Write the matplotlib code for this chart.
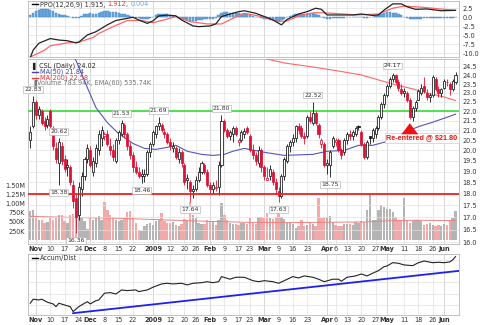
import numpy as np
import pandas as pd
import matplotlib
matplotlib.use("Agg")
from matplotlib import pyplot as plt
from matplotlib.transforms import offset_copy

# ---- calendar (trading days) ----
holidays = ['2008-11-27', '2008-12-25', '2009-01-01', '2009-01-19',
            '2009-02-16', '2009-04-10', '2009-05-25']
days = pd.bdate_range('2008-10-30', '2009-06-05')
days = days[~days.isin(pd.to_datetime(holidays))]

tick_dates = ['2008-11-03', '2008-11-10', '2008-11-17', '2008-11-24', '2008-12-01',
              '2008-12-08', '2008-12-15', '2008-12-22', '2009-01-02', '2009-01-12',
              '2009-01-20', '2009-01-26', '2009-02-02', '2009-02-09', '2009-02-17',
              '2009-02-23', '2009-03-02', '2009-03-09', '2009-03-16', '2009-03-23',
              '2009-04-01', '2009-04-06', '2009-04-13', '2009-04-20', '2009-04-27',
              '2009-05-01', '2009-05-11', '2009-05-18', '2009-05-26', '2009-06-01']
tick_labels = ['Nov', '10', '17', '24', 'Dec', '8', '15', '22', '2009', '12', '20', '26',
               'Feb', '9', '17', '23', 'Mar', '9', '16', '23', 'Apr', '6', '13', '20', '27',
               'May', '11', '18', '26', 'Jun']
month_labels = ['Nov', 'Dec', '2009', 'Feb', 'Mar', 'Apr', 'May', 'Jun']

# ---- daily prices ----
opens = [20.5, 21.2, 22.5, 21.8, 22.0, 21.5, 21.3, 22.0, 21.1, 20.1,
         19.4, 20.2, 19.6, 19.2, 19.2, 18.4, 17.8, 17.1, 18.2, 18.8,
         19.6, 20.0, 19.0, 19.4, 20.0, 20.6, 20.7, 20.8, 20.2, 20.0,
         19.5, 20.5, 20.8, 21.3, 20.8, 20.2, 19.8, 19.2, 19.0, 18.8,
         18.8, 18.9, 19.9, 20.3, 20.8, 21.2, 21.3, 20.9, 20.8, 20.4,
         20.1, 20.1, 19.6, 19.9, 19.3, 18.6, 18.5, 18.1, 18.2, 18.6,
         19.0, 19.3, 19.0, 18.4, 18.2, 18.25, 18.3, 19.3, 21.5, 21.0,
         20.7, 20.8, 21.1, 20.4, 20.5, 20.8, 21.1, 20.7, 20.0, 19.8,
         19.4, 20.0, 19.2, 18.6, 18.8, 19.0, 18.5, 18.1, 17.9, 18.8,
         19.5, 20.2, 20.4, 20.6, 21.2, 21.1, 20.7, 20.7, 21.7, 21.4,
         21.9, 21.3, 20.3, 20.3, 19.3, 19.3, 20.2, 20.4, 20.5, 20.0,
         19.9, 20.5, 20.8, 20.7, 20.8, 21.25, 20.9, 20.3, 19.7, 20.7,
         20.6, 20.8, 21.1, 21.7, 22.4, 22.9, 23.4, 23.8, 24.0, 23.6,
         23.2, 23.0, 23.0, 22.6, 21.7, 22.2, 22.6, 23.0, 23.4, 23.0,
         22.8, 22.9, 23.8, 23.2, 23.0, 23.3, 23.6, 23.5, 23.2, 23.6]
highs = [21.2, 22.83, 22.6, 22.3, 22.1, 21.7, 21.8, 22.1, 21.2, 20.4,
         20.62, 20.4, 19.8, 19.6, 19.3, 18.6, 18.0, 18.5, 19.0, 19.7,
         20.3, 20.2, 19.7, 20.3, 21.0, 21.2, 20.9, 21.0, 20.6, 20.3,
         20.6, 21.0, 21.53, 21.4, 20.9, 20.4, 19.9, 19.5, 19.2, 19.1,
         19.1, 20.0, 20.4, 21.0, 21.3, 21.69, 21.4, 21.1, 20.9, 20.6,
         20.4, 20.2, 20.1, 20.0, 19.4, 18.9, 18.6, 18.4, 18.8, 19.2,
         19.5, 19.4, 19.1, 18.5, 18.5, 18.6, 19.5, 21.80, 21.6, 21.1,
         21.0, 21.2, 21.2, 20.6, 21.0, 21.1, 21.2, 20.8, 20.3, 19.9,
         20.2, 20.1, 19.3, 19.2, 19.3, 19.1, 18.7, 18.3, 18.9, 19.7,
         20.3, 20.5, 20.8, 21.3, 21.4, 21.3, 20.9, 21.8, 22.0, 22.52,
         22.0, 21.4, 20.6, 20.4, 19.6, 20.0, 20.7, 20.6, 20.6, 20.1,
         20.6, 20.9, 21.0, 21.0, 21.2, 21.3, 21.0, 20.4, 20.5, 20.7,
         21.1, 21.2, 21.8, 22.5, 23.0, 23.5, 23.9, 24.17, 24.1, 23.8,
         23.5, 23.3, 23.1, 22.7, 22.3, 22.6, 23.2, 23.5, 23.9, 23.2,
         23.0, 24.0, 23.9, 23.4, 23.3, 23.8, 23.8, 23.6, 23.8, 24.2]
lows = [20.1, 21.1, 21.6, 21.6, 21.3, 21.0, 21.1, 21.1, 20.0, 19.4,
        18.38, 19.3, 19.0, 18.8, 18.4, 17.4, 16.36, 16.9, 17.9, 18.6,
        19.4, 19.2, 18.8, 19.2, 19.8, 20.2, 20.5, 20.2, 19.8, 19.5,
        19.4, 20.3, 20.7, 20.6, 20.0, 19.6, 19.0, 18.9, 18.7, 18.46,
        18.5, 18.8, 19.7, 20.2, 20.6, 21.0, 20.9, 20.6, 20.3, 20.0,
        19.9, 19.6, 19.4, 19.2, 18.4, 18.2, 17.64, 17.8, 18.1, 18.5,
        18.9, 18.9, 18.3, 18.0, 18.0, 18.1, 17.96, 19.2, 20.9, 20.6,
        20.5, 20.4, 20.7, 20.2, 20.4, 20.6, 20.8, 19.9, 19.6, 19.3,
        19.2, 19.0, 18.6, 18.6, 18.6, 18.4, 18.0, 17.63, 17.8, 18.6,
        19.4, 19.9, 20.2, 20.4, 20.8, 20.6, 20.3, 20.6, 21.4, 21.3,
        21.3, 20.6, 20.1, 19.2, 18.9, 18.75, 20.1, 20.2, 19.9, 19.6,
        19.8, 20.3, 20.5, 20.5, 20.7, 21.0, 20.2, 19.6, 19.6, 20.3,
        20.4, 20.6, 21.0, 21.6, 22.2, 22.8, 23.3, 23.6, 23.5, 23.1,
        22.9, 22.8, 22.5, 21.6, 21.5, 22.0, 22.6, 22.9, 23.0, 22.6,
        22.5, 22.8, 23.1, 22.8, 22.8, 23.2, 23.4, 22.9, 23.1, 23.5]
closes = [20.9, 22.5, 21.8, 22.1, 21.4, 21.2, 21.6, 21.2, 20.2, 19.6,
          20.4, 19.5, 19.1, 19.3, 18.5, 17.7, 17.0, 18.3, 18.8, 19.6,
          20.1, 19.3, 19.5, 20.1, 20.8, 21.0, 20.8, 20.3, 20.0, 19.7,
          20.5, 20.9, 21.4, 20.8, 20.2, 19.8, 19.2, 19.0, 18.8, 18.9,
          18.9, 19.9, 20.3, 20.9, 21.2, 21.4, 21.0, 20.8, 20.4, 20.2,
          20.2, 19.7, 19.9, 19.4, 18.5, 18.7, 18.1, 18.2, 18.6, 19.0,
          19.4, 19.0, 18.4, 18.2, 18.4, 18.3, 19.3, 21.5, 21.0, 20.7,
          20.9, 21.1, 20.8, 20.5, 20.9, 20.95, 20.9, 20.0, 19.8, 19.5,
          20.0, 19.2, 18.8, 18.7, 19.1, 18.5, 18.2, 17.9, 18.8, 19.6,
          20.2, 20.4, 20.6, 21.2, 21.0, 20.7, 20.6, 21.7, 21.5, 21.9,
          21.4, 20.8, 20.5, 19.3, 19.4, 19.9, 20.6, 20.5, 20.0, 19.8,
          20.5, 20.8, 20.7, 20.9, 21.1, 21.15, 20.3, 19.7, 20.4, 20.6,
          21.0, 21.1, 21.7, 22.4, 22.9, 23.4, 23.8, 24.0, 23.6, 23.3,
          23.0, 23.1, 22.6, 21.7, 22.2, 22.5, 23.1, 23.3, 23.1, 22.8,
          22.9, 23.9, 23.2, 23.0, 23.2, 23.7, 23.6, 23.2, 23.7, 24.02]

volumes_k = [790, 830, 600, 540, 560, 480, 500, 620, 560, 600,
             680, 680, 520, 480, 700, 720, 1040, 700, 600, 520,
             300, 620, 540, 600, 650, 560, 1040, 820, 700, 620,
             560, 520, 560, 600, 780, 800, 620, 480, 280, 250,
             380, 450, 460, 420, 520, 560, 730, 520, 480, 460,
             500, 420, 400, 440, 580, 560, 1040, 700, 600, 480,
             430, 430, 560, 520, 500, 420, 560, 1000, 700, 560,
             460, 440, 430, 420, 480, 460, 430, 600, 460, 430,
             640, 620, 600, 730, 600, 580, 620, 730, 640, 580,
             480, 500, 440, 340, 380, 560, 400, 420, 460, 450,
             380, 1140, 600, 620, 640, 660, 500, 420, 380, 400,
             440, 450, 440, 420, 500, 480, 520, 500, 820, 1280,
             560, 540, 820, 950, 900, 840, 860, 760, 640, 540,
             520, 1140, 560, 480, 520, 560, 540, 520, 420, 440,
             460, 420, 400, 420, 400, 440, 420, 520, 600, 784]
vol_ema_days = [0, 15, 30, 45, 60, 75, 90, 105, 118, 125, 135, 149]
vol_ema_k = [650, 620, 600, 560, 520, 490, 480, 490, 500, 530, 545, 536]

ma50_days = [10, 16, 20, 23, 27, 31, 36, 40, 44, 48, 51, 55, 60, 64, 68, 71, 75,
             82, 89, 99, 104, 110, 115, 120, 125, 130, 136, 141, 149]
ma50_vals = [26.5, 24.9, 23.3, 22.2, 21.4, 20.83, 20.34, 20.1, 20.05, 20.15, 20.25,
             19.96, 19.81, 19.76, 19.81, 19.96, 20.1, 19.91, 19.76, 19.81, 19.96,
             20.0, 20.25, 20.25, 20.44, 20.83, 21.19, 21.42, 21.84]
ma200_days = [75, 89, 99, 108, 116, 122, 128, 134, 139, 145, 149]
ma200_vals = [25.3, 24.74, 24.5, 24.26, 24.03, 23.74, 23.46, 23.23, 23.0, 22.78, 22.58]

# ---- PPO(12,26,9) ----
ppo_days = [0, 1, 3, 7, 10, 13, 16, 17, 20, 23, 27, 30, 34, 36, 38, 41, 43, 45, 48,
            51, 53, 57, 59, 63, 65, 67, 70, 73, 75, 79, 82, 85, 88, 90, 94, 97, 100,
            102, 104, 109, 113, 116, 120, 122, 124, 127, 130, 132, 135, 139, 144, 149]
ppo_vals = [-11.2, -9.1, -7.2, -5.9, -6.3, -6.5, -7.1, -6.9, -4.9, -4.0, -2.1, -0.9,
            -0.3, 0.0, -0.75, -1.7, -1.0, 0.36, 0.6, 0.4, -0.75, -2.4, -2.6, -2.4,
            -1.85, 0.2, 0.9, 1.55, 1.8, 1.1, 0.2, -0.75, -2.1, -0.6, 0.9, 1.55, 2.5,
            2.2, 0.64, 0.64, 0.64, 0.9, 0.5, 0.64, 2.0, 3.7, 3.7, 2.9, 2.2, 2.3, 1.8,
            1.915]
sig_days = [0, 5, 7, 13, 17, 22, 24, 29, 34, 39, 43, 48, 51, 56, 62, 67, 71, 75, 81,
            87, 90, 95, 100, 106, 114, 122, 127, 131, 137, 145, 149]
sig_vals = [-11.0, -9.1, -7.9, -7.1, -6.9, -5.6, -4.5, -2.6, -0.9, -0.9, -1.5, -0.5,
            0.2, -1.2, -1.85, -1.85, -0.3, 1.1, 0.2, -1.2, -1.0, 0.64, 1.3, 1.1, 0.64,
            0.9, 2.5, 3.1, 2.8, 2.2, 1.912]
hist_vals = [0.5, 1.2, 1.8, 2.1, 2.3, 2.3, 2.2, 2.0, 1.6, 1.2,
             0.9, 0.7, 0.6, 0.4, 0.2, -0.1, -0.3, -0.2, 0.3, 0.8,
             1.0, 1.1, 1.0, 0.9, 1.2, 1.5, 1.6, 1.6, 1.5, 1.5,
             1.4, 1.2, 1.0, 0.8, 0.5, 0.3, 0.1, -0.1, -0.3, -0.5,
             -0.6, -0.5, -0.3, 0.1, 0.5, 0.8, 0.9, 0.9, 0.8, 0.6,
             0.4, 0.2, -0.1, -0.4, -0.6, -0.8, -0.9, -1.0, -0.9, -0.8,
             -0.7, -0.6, -0.6, -0.5, -0.4, -0.1, 0.6, 1.3, 1.4, 1.4,
             1.3, 1.3, 1.2, 1.1, 1.0, 0.9, 0.8, 0.6, 0.4, 0.2,
             0.0, -0.2, -0.4, -0.6, -0.7, -0.8, -0.9, -1.0, -0.8, -0.5,
             0.0, 0.3, 0.6, 0.8, 0.9, 0.9, 0.8, 0.9, 1.0, 1.1,
             0.8, 0.5, 0.1, -0.3, -0.5, -0.4, -0.3, -0.2, -0.2, -0.2,
             -0.1, 0.0, 0.0, 0.1, 0.1, 0.2, 0.1, -0.1, -0.1, 0.0,
             0.1, 0.3, 0.6, 0.9, 1.2, 1.4, 1.4, 1.3, 1.1, 0.8,
             0.5, 0.2, -0.1, -0.4, -0.5, -0.5, -0.4, -0.4, -0.3, -0.3,
             -0.3, -0.2, -0.3, -0.3, -0.3, -0.2, -0.2, -0.2, -0.1, 0.004]

# ---- Accum/Dist ----
ad_days = [0, 1, 3, 4, 6, 8, 9, 10, 12, 14, 15, 17, 19, 20, 21, 23, 24, 26, 28, 30,
           32, 34, 37, 38, 41, 43, 46, 48, 50, 53, 55, 57, 60, 62, 64, 66, 67, 70, 72,
           75, 78, 80, 82, 85, 87, 89, 92, 94, 96, 99, 101, 103, 106, 108, 109, 111,
           114, 116, 118, 120, 122, 124, 125, 127, 129, 131, 134, 136, 138, 141, 143,
           145, 147, 148, 149]
ad_vals = [1.14, 1.50, 1.43, 1.50, 1.23, 1.08, 0.84, 1.14, 0.99, 0.84, 0.40, 0.84,
           1.14, 1.28, 1.08, 1.37, 1.43, 2.03, 2.08, 1.96, 2.32, 2.26, 2.32, 2.17,
           2.32, 2.56, 2.85, 2.91, 2.85, 2.91, 2.76, 2.91, 2.96, 3.05, 2.96, 3.05,
           3.50, 3.27, 3.44, 3.44, 3.14, 3.05, 3.14, 3.05, 2.91, 3.14, 3.50, 3.38,
           3.56, 3.44, 3.27, 3.05, 3.27, 3.27, 3.09, 3.44, 3.56, 3.73, 3.56, 3.80,
           4.03, 4.38, 4.44, 4.73, 4.68, 4.53, 4.47, 4.73, 4.88, 4.73, 4.77, 4.73,
           4.80, 4.97, 5.27]
ad_trend_days = [15, 151]
ad_trend_vals = [0.26, 4.03]

price_labels = [(1, '22.83', 'high'), (10, '20.62', 'high'), (10, '18.38', 'low'),
                (16, '16.36', 'low'), (32, '21.53', 'high'), (39, '18.46', 'low'),
                (45, '21.69', 'high'), (56, '17.64', 'low'), (67, '21.80', 'high'),
                (87, '17.63', 'low'), (99, '22.52', 'high'), (105, '18.75', 'low'),
                (127, '24.17', 'high')]

support_level = 22.0
stop_level = 18.0
reentry_day = 133

# ---- figure ----
W, H = 489, 325
fig = plt.figure(figsize=(W / 100, H / 100), dpi=100)
fig.patch.set_facecolor('white')
plt.rcParams['font.family'] = ['DejaVu Sans']
FS = 4.7
renderer = fig.canvas.get_renderer()


def rect(top, bottom, left=28, right=459.5):
    return [left / W, 1 - bottom / H, (right - left) / W, (bottom - top) / H]


def chain_text(ax, x0, y0, parts, **kw):
    # write coloured pieces one after another on a line
    dx = 0
    for txt, col in parts:
        t = ax.text(x0, y0, txt, color=col, va='center', fontsize=FS,
                    transform=offset_copy(ax.transData, fig=fig, x=dx, y=0, units='dots'),
                    **kw)
        dx += t.get_window_extent(renderer=renderer).width


x = np.arange(len(days))
xlim = (-0.8, 150.4)
tick_pos = [days.get_loc(pd.Timestamp(d)) for d in tick_dates]
grid_c = '#e2e2e2'
frame_c = '#b8b8b8'


def style(ax):
    ax.set_xlim(*xlim)
    for s in ax.spines.values():
        s.set_color(frame_c)
        s.set_linewidth(0.6)
    ax.tick_params(length=0, labelsize=FS, colors='#333333', pad=2)
    for p, lab in zip(tick_pos, tick_labels):
        c = '#c8c8c8' if lab in month_labels else grid_c
        ax.axvline(p, color=c, lw=0.5, zorder=0)


def date_labels(ax):
    ax.set_xticks(tick_pos)
    ax.set_xticklabels(tick_labels)
    ax.tick_params(axis='x', labelsize=4.7, pad=1.5)
    for t in ax.get_xticklabels():
        if t.get_text() in month_labels:
            t.set_fontweight('bold')


# PPO panel
ax_p = fig.add_axes(rect(1, 57))
style(ax_p)
ax_p.set_ylim(-11.0, 4.5)
ax_p.set_yticks([2.5, 0, -2.5, -5, -7.5, -10])
ax_p.set_yticklabels(['2.5', '0.0', '-2.5', '-5.0', '-7.5', '-10.0'])
ax_p.yaxis.tick_right()
ax_p.set_xticks([])
for v in [2.5, 0, -2.5, -5, -7.5, -10]:
    ax_p.axhline(v, color=grid_c, lw=0.5, zorder=0)
ax_p.bar(x, hist_vals, width=0.85, color='#6fa8dc', edgecolor='#3d85c6',
         linewidth=0.3, zorder=2)
ax_p.plot(sig_days, sig_vals, color='#ff6666', lw=0.9, zorder=3)
ax_p.plot(ppo_days, ppo_vals, color='#222222', lw=0.9, zorder=4)
ax_p.plot([0.6, 2.8], [3.55, 3.55], color='black', lw=1.0, clip_on=False)
chain_text(ax_p, 3.5, 3.55, [('PPO(12,26,9) 1.915, ', '#333333'), ('1.912', '#ee3333'),
                              (', ', '#333333'), ('0.004', '#66aadd')])

# Main panel: volume underneath, price on top
ax_v = fig.add_axes(rect(59, 244))
style(ax_v)
ax_v.set_ylim(-100, 4920)
ax_v.set_yticks([250, 500, 750, 1000, 1250, 1500])
ax_v.set_yticklabels(['250K', '500K', '750K', '1.00M', '1.25M', '1.50M'])
prev = [closes[0]] + closes[:-1]
vcol = ['#b4b4b4' if c >= p else '#f2a9a9' for c, p in zip(closes, prev)]
ax_v.bar(x, volumes_k, width=0.82, color=vcol, edgecolor='none', zorder=1)
ax_v.plot(vol_ema_days, vol_ema_k, color='#f08080', lw=0.7, zorder=2)
date_labels(ax_v)

ax = ax_v.twinx()
ax.set_xlim(*xlim)
ax.set_yscale('log')
ax.set_ylim(15.93, 24.98)
yt = np.arange(16.0, 24.51, 0.5)
ax.set_yticks(yt)
ax.set_yticklabels(['%.1f' % v for v in yt])
ax.yaxis.set_minor_locator(matplotlib.ticker.NullLocator())
ax.tick_params(axis='y', length=0, labelsize=FS, colors='#333333', pad=2)
for s in ax.spines.values():
    s.set_visible(False)
for v in yt:
    ax.axhline(v, color=grid_c, lw=0.5, zorder=0)

ax.axhline(support_level, color='#22dd22', lw=1.1, zorder=3)
ax.axhline(stop_level, color='#ee2222', lw=1.3, zorder=6)
ax.plot(ma50_days, ma50_vals, color='#5555bb', lw=0.8, zorder=4)
ax.plot(ma200_days, ma200_vals, color='#ff6666', lw=0.8, zorder=4)

for i in x:
    o, h, l, c = opens[i], highs[i], lows[i], closes[i]
    col = '#dd1133' if (i > 0 and c < closes[i - 1]) else '#111111'
    ax.vlines(i, l, h, color=col, lw=0.6, zorder=5)
    lo, hi = min(o, c), max(o, c)
    if hi - lo < 0.04:
        hi = lo + 0.04
    face = 'white' if c >= o else col
    ax.bar(i, hi - lo, bottom=lo, width=0.72, color=face, edgecolor=col,
           linewidth=0.55, zorder=5)

for i, txt, kind in price_labels:
    if kind == 'high':
        y, va = highs[i] * 1.01, 'bottom'
    else:
        y, va = lows[i] * 0.988, 'top'
    ax.text(i, y, txt, fontsize=4.4, ha='center', va=va, color='#333333', zorder=8,
            bbox=dict(boxstyle='square,pad=0.15', fc='white', ec='#aaaaaa', lw=0.4))

# re-entry arrow and note
ax.annotate('', xy=(reentry_day, lows[reentry_day] * 0.996),
            xytext=(reentry_day, lows[reentry_day] * 0.972),
            arrowprops=dict(arrowstyle='simple,head_width=1.2,head_length=0.8,tail_width=0.55',
                            color='#ee1111', lw=0), zorder=9)
ax.text(149.6, 20.62, 'Re-entered @ $21.80', fontsize=5.2, fontweight='bold',
        family='Liberation Sans', ha='right', va='center', color='#ee1111', zorder=8,
        bbox=dict(boxstyle='square,pad=0.2', fc='white', ec='#cccccc', lw=0.5))

# legend, main panel
lx = 0.6
ax.text(lx, 24.56, '\u258c CSL (Daily) 24.02', fontsize=FS, va='center', color='#222222')
ax.plot([lx, lx + 2.2], [24.2, 24.2], color='#4444aa', lw=1.0)
ax.text(lx + 2.8, 24.2, 'MA(50) 21.84', fontsize=FS, va='center', color='#4444aa')
ax.plot([lx, lx + 2.2], [23.87, 23.87], color='#ee3333', lw=1.0)
ax.text(lx + 2.8, 23.87, 'MA(200) 22.58', fontsize=FS, va='center', color='#ee3333')
ax.text(lx, 23.55, '\u2590Volume 783.94K, EMA(60) 535.74K', fontsize=FS, va='center',
        color='#777777')

# Accum/Dist panel
ax_a = fig.add_axes(rect(254, 315))
style(ax_a)
ax_a.set_ylim(0.1, 5.5)
for v in [1, 2, 3, 4, 5]:
    ax_a.axhline(v, color=grid_c, lw=0.5, zorder=0)
ax_a.set_yticks([])
ax_a.plot(ad_trend_days, ad_trend_vals, color='#1f1fee', lw=1.3, zorder=2)
ax_a.plot(ad_days, ad_vals, color='#222222', lw=0.8, zorder=3)
ax_a.plot([0.6, 2.8], [5.12, 5.12], color='black', lw=1.0)
ax_a.text(3.5, 5.12, 'Accum/Dist', fontsize=FS, va='center', color='#333333')
date_labels(ax_a)

fig.savefig('out.png', dpi=100, facecolor='white')
